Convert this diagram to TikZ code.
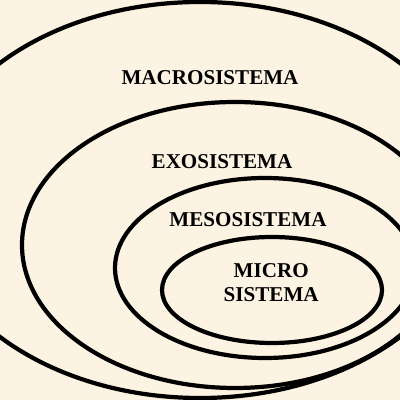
\documentclass[tikz,border=0pt]{standalone}
\usepackage{fontspec}
\setmainfont{Liberation Serif}
\usetikzlibrary{positioning}
\definecolor{paper}{RGB}{253,243,226}

\begin{document}
\begin{tikzpicture}[
		ring/.style={draw=black, line width=3pt},
		label/.style={font=\fontsize{15}{16.5}\selectfont\bfseries, align=center, inner sep=0pt}
		]
		
		% ----- Frame -----
		\useasboundingbox (0,0) rectangle (10,10);
		\fill[paper] (0,0) rectangle (10,10);
		\clip (0,0) rectangle (10,10);
		
		% ----- Rings -----
		\draw[ring] (5,5) ellipse [x radius=6.925cm, y radius=4.95cm];
		\draw[ring] (5.875,3.875) ellipse [x radius=5.325cm, y radius=3.575cm];
		\draw[ring] (6.625,3.3) ellipse [x radius=3.75cm, y radius=2.25cm];
		\draw[ring] (6.8,2.75) ellipse [x radius=2.75cm, y radius=1.325cm];
		
		% ----- Labels -----
		\node[label] (macro) at (5.25,8.06) {MACROSISTEMA};
		\node[label] (exo) at (5.55,5.97) {EXOSISTEMA};
		\node[label] (meso) at (6.2,4.5) {MESOSISTEMA};
		\node[label, text height=10pt, text depth=0pt] (micro) at (6.78,2.63) {MICRO\\[1pt]SISTEMA};
		
	\end{tikzpicture}
\end{document}
